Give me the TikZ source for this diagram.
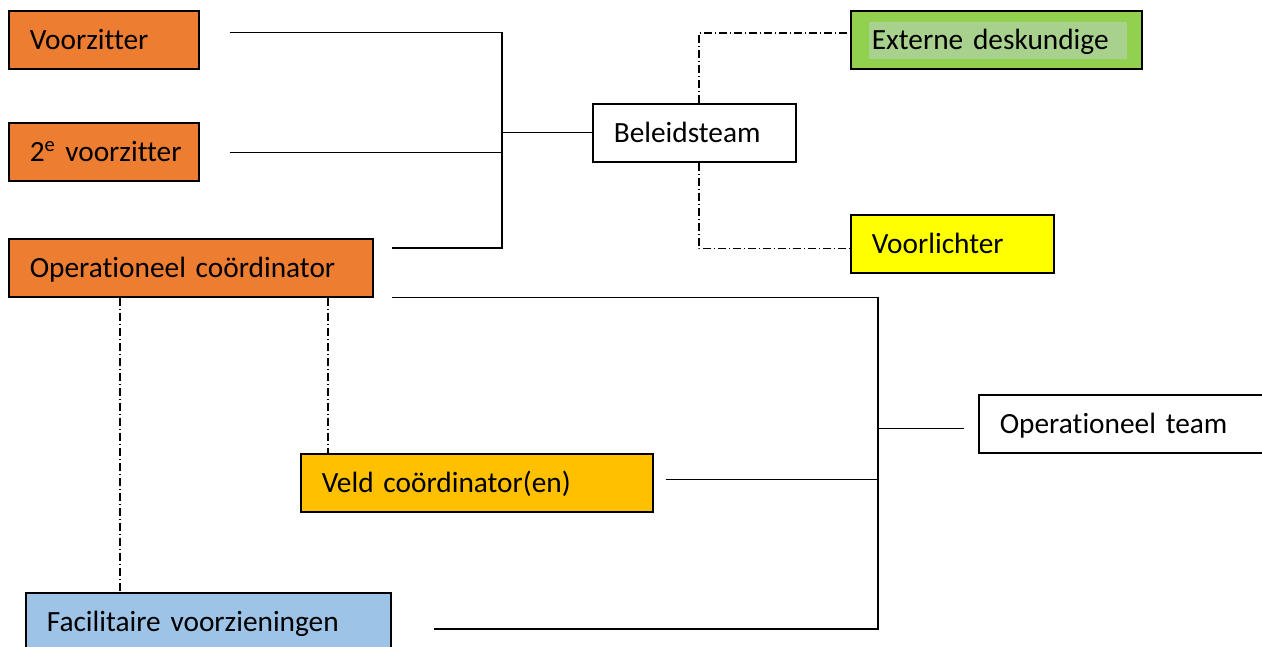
\documentclass[tikz,border=0pt]{standalone}
\usepackage{fontspec}
\setmainfont{Carlito}[Ligatures=NoCommon]
\usepackage{xcolor}

\definecolor{vzorange}{RGB}{237,125,49}
\definecolor{extgreen}{RGB}{146,208,80}
\definecolor{extlight}{RGB}{169,209,142}
\definecolor{vlyellow}{RGB}{255,255,0}
\definecolor{veldamber}{RGB}{255,192,0}
\definecolor{facblue}{RGB}{157,195,230}

\tikzset{
  rolbox/.style={draw, line width=1.2pt, anchor=north west, align=left,
    inner xsep=15.75pt, minimum height=43.5pt, text height=14pt, text depth=0pt,
    font=\fontsize{22}{26}\selectfont},
  lijn/.style={line width=0.8pt},
  streeppunt/.style={line width=0.8pt, dash pattern=on 6pt off 2.25pt on 0.75pt off 2.25pt}
}

\begin{document}
\begin{tikzpicture}[x=0.75pt,y=0.75pt,yscale=-1,xscale=1]
\useasboundingbox (0,0) rectangle (1262,646);

% Text Node
\node[rolbox, fill=vzorange, text width=111pt] (vz) at (8,10) {Voorzitter};
% Text Node
\node[rolbox, fill=vzorange, text width=111pt] (vz2) at (8,122) {\mbox{2\textsuperscript{e} voorzitter}};
% Text Node
\node[rolbox, fill=vzorange, text width=241.5pt] (opco) at (8,238) {Operationeel coördinator};
% Text Node
\node[rolbox, text width=120.75pt] (bt) at (592,103) {Beleidsteam};
% Text Node
\node[rolbox, fill=extgreen, text width=186.75pt,
  path picture={\fill[extlight] ([xshift=13.5pt,yshift=-8.25pt]path picture bounding box.north west) rectangle ([xshift=-11.25pt,yshift=7.5pt]path picture bounding box.south east);}] (ext) at (850,10) {Externe deskundige};
% Text Node
\node[rolbox, fill=vlyellow, text width=120.75pt] (vl) at (850,214) {Voorlichter};
% Text Node
\node[rolbox, fill=veldamber, text width=232.5pt] (veld) at (300,453) {Veld coördinator(en)};
% Text Node
\node[rolbox, fill=facblue, text width=242.25pt] (fac) at (25,592) {Facilitaire voorzieningen};
% Text Node
\node[rolbox, text width=184.5pt] (ot) at (978,394) {Operationeel team};

% bus Beleidsteam
\coordinate (jt) at (502,32.7);
\coordinate (jm) at (502,152.7);
\coordinate (jd) at (502,248);
\draw[lijn] ([xshift=22.5pt]vz.east |- jt) -- (jt) -- (jd) -- ([xshift=13.5pt]opco.east |- jd);
\draw[lijn] ([xshift=22.5pt]vz2.east |- jm) -- (jm);
\draw[lijn] (bt.west -| jt) -- (bt.west);

% Beleidsteam naar adviseurs
\draw[streeppunt] ([xshift=3.5pt]bt.north) |- ([yshift=-5.1pt]ext.west);
\draw[streeppunt] ([xshift=3.5pt]bt.south) |- ([yshift=3.75pt]vl.west);

% bus Operationeel team
\coordinate (jo) at (878,428.7);
\coordinate (jf) at (878,629);
\draw[lijn] ([xshift=13.5pt]opco.south east) -| (jf) -- ([xshift=31.5pt]fac.east |- jf);
\draw[lijn] ([xshift=9pt,yshift=-2.25pt]veld.east) -- ([yshift=-2.25pt]veld.east -| jo);
\draw[lijn] (jo) -- ([xshift=-10.5pt]ot.west |- jo);

% Operationeel coordinator naar veld en facilitair
\coordinate (d1) at ([xshift=84pt]opco.south west);
\coordinate (d2) at ([xshift=240pt]opco.south west);
\draw[streeppunt] (d1) -- (d1 |- fac.north);
\draw[streeppunt] (d2) -- (d2 |- veld.north);

\end{tikzpicture}
\end{document}
